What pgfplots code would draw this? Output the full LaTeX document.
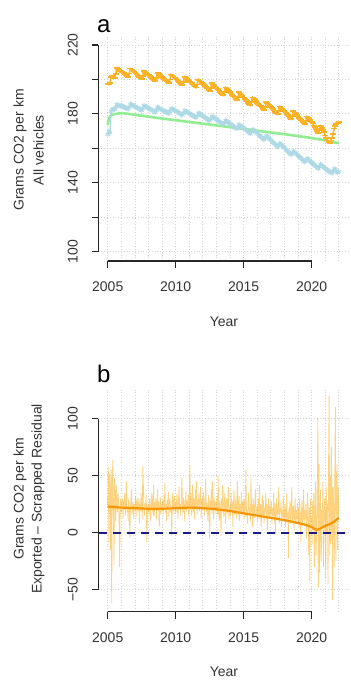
\documentclass[border=0pt]{standalone}
\usepackage{pgfplots}
\pgfplotsset{compat=1.18}
\usepackage{pgfplotstable}
\usepackage{fontspec}
\setmainfont{Liberation Sans}
\definecolor{Rorange}{RGB}{255,165,0}
\definecolor{Rdark}{RGB}{245,150,0}
\definecolor{Rblue}{RGB}{173,216,230}
\definecolor{Rgreen}{RGB}{144,238,144}
\definecolor{Rnavy}{RGB}{25,25,135}
\definecolor{gridc}{RGB}{212,212,212}

% monthly values, Jan 2005 ... Jan 2022
\pgfplotstableread[header=false,row sep=\\]{
197.5\\197\\198\\201.5\\202\\201.5\\201\\203\\206.5\\206\\205.5\\205\\
205.0\\204.4\\203.8\\203.3\\202.7\\202.1\\201.5\\203.4\\206.3\\205.8\\205.2\\204.6\\
204.0\\203.4\\202.8\\202.1\\201.5\\200.9\\200.3\\202.1\\205.0\\204.4\\203.8\\203.1\\
202.5\\201.9\\201.3\\200.8\\200.2\\199.6\\199.0\\200.9\\203.8\\203.3\\202.7\\202.1\\
201.5\\200.9\\200.3\\199.8\\199.2\\198.6\\198.0\\199.9\\202.8\\202.3\\201.7\\201.1\\
200.5\\199.9\\199.3\\198.6\\198.0\\197.4\\196.8\\198.6\\201.5\\200.9\\200.3\\199.6\\
199.0\\198.4\\197.8\\197.1\\196.5\\195.9\\195.3\\197.1\\200.0\\199.4\\198.8\\198.1\\
197.5\\196.8\\196.1\\195.4\\194.7\\194.0\\193.3\\195.0\\197.8\\197.1\\196.4\\195.7\\
195.0\\194.3\\193.6\\192.9\\192.2\\191.5\\190.8\\192.5\\195.3\\194.6\\193.9\\193.2\\
192.5\\191.8\\191.0\\190.3\\189.5\\188.8\\188.0\\189.8\\192.5\\191.8\\191.0\\190.3\\
189.5\\188.8\\188.0\\187.3\\186.5\\185.8\\185.0\\186.8\\189.5\\188.8\\188.0\\187.3\\
186.5\\185.8\\185.1\\184.4\\183.7\\183.0\\182.3\\184.0\\186.8\\186.1\\185.4\\184.7\\
184.0\\183.3\\182.6\\181.9\\181.2\\180.5\\179.8\\181.5\\184.3\\183.6\\182.9\\182.2\\
181.5\\180.8\\180.0\\179.3\\178.5\\177.8\\177.0\\178.8\\181.5\\180.8\\180.0\\179.3\\
178.5\\177.8\\177.0\\176.3\\175.5\\174.8\\174.0\\175.8\\178.5\\177.8\\177.0\\176.3\\
175.5\\174.4\\173.3\\172.3\\171.2\\170.1\\169.0\\170.4\\172.8\\171.8\\170.7\\169.6\\
167.5\\166.0\\164.5\\163.5\\163.0\\164.5\\166.0\\168.5\\171.5\\173.0\\174.0\\174.5\\
175.5\\
}\orangeTab

\pgfplotstableread[header=false,row sep=\\]{
168\\170\\169\\181.5\\182.5\\182.8\\182.5\\183.5\\185.5\\185.2\\184.8\\184.5\\
184.8\\184.5\\184.1\\183.8\\183.4\\183.1\\182.8\\183.9\\185.7\\185.3\\185.0\\184.6\\
184.3\\183.9\\183.5\\183.2\\182.8\\182.4\\182.0\\183.1\\184.8\\184.5\\184.1\\183.7\\
183.3\\182.9\\182.5\\182.2\\181.8\\181.4\\181.0\\182.1\\183.8\\183.5\\183.1\\182.7\\
182.3\\182.0\\181.6\\181.3\\180.9\\180.6\\180.3\\181.4\\183.2\\182.8\\182.5\\182.1\\
181.8\\181.4\\181.0\\180.5\\180.1\\179.7\\179.3\\180.3\\182.0\\181.6\\181.2\\180.7\\
180.3\\179.9\\179.5\\179.0\\178.6\\178.2\\177.8\\178.8\\180.5\\180.1\\179.7\\179.2\\
178.8\\178.3\\177.9\\177.4\\176.9\\176.5\\176.0\\177.0\\178.7\\178.2\\177.7\\177.3\\
176.8\\176.3\\175.8\\175.3\\174.8\\174.3\\173.8\\174.7\\176.3\\175.8\\175.3\\174.8\\
174.3\\173.8\\173.3\\172.8\\172.3\\171.8\\171.3\\172.2\\173.8\\173.3\\172.8\\172.3\\
171.8\\171.3\\170.7\\170.2\\169.6\\169.1\\168.5\\169.5\\171.0\\170.5\\169.9\\169.4\\
168.8\\168.2\\167.5\\166.9\\166.3\\165.6\\165.0\\165.9\\167.3\\166.7\\166.1\\165.4\\
164.8\\164.1\\163.5\\162.8\\162.1\\161.4\\160.8\\161.6\\163.0\\162.3\\161.7\\161.0\\
160.3\\159.6\\159.0\\158.3\\157.6\\156.9\\156.3\\157.1\\158.5\\157.8\\157.2\\156.5\\
155.8\\155.2\\154.5\\153.9\\153.3\\152.6\\152.0\\152.9\\154.3\\153.7\\153.1\\152.4\\
151.8\\151.2\\150.6\\150.0\\149.4\\148.8\\148.3\\149.2\\150.7\\150.1\\149.5\\148.9\\
148.3\\147.8\\147.4\\146.9\\146.4\\146.0\\145.5\\146.5\\148.2\\147.7\\146.5\\146.0\\
146.5\\
}\blueTab

% semi-monthly residuals, 2005.0 ... 2022.0
\pgfplotstableread[header=false,row sep=\\]{
22\\58\\-8\\52\\40\\-15\\55\\-62\\45\\64\\20\\-28\\48\\30\\10\\42\\25\\18\\35\\28\\15\\-30\\22\\30\\
18\\25\\30\\12\\28\\20\\35\\15\\24\\45\\18\\22\\10\\30\\26\\-5\\20\\28\\38\\16\\22\\27\\12\\25\\
20\\32\\14\\26\\30\\18\\22\\30\\8\\25\\19\\35\\24\\12\\58\\40\\20\\15\\26\\22\\33\\-8\\24\\18\\
25\\15\\30\\22\\10\\28\\35\\20\\18\\42\\14\\26\\22\\30\\12\\24\\38\\19\\27\\5\\23\\31\\16\\25\\
20\\28\\15\\33\\22\\44\\17\\25\\10\\29\\21\\36\\14\\26\\30\\18\\23\\-3\\27\\35\\19\\24\\32\\16\\
26\\18\\34\\22\\12\\30\\40\\20\\25\\15\\28\\48\\21\\17\\31\\24\\10\\27\\36\\19\\25\\22\\33\\14\\
28\\59\\20\\35\\15\\25\\42\\18\\30\\12\\26\\38\\22\\45\\16\\29\\24\\34\\19\\27\\40\\13\\25\\31\\
20\\36\\24\\15\\30\\48\\18\\26\\22\\10\\33\\25\\-5\\28\\20\\38\\17\\45\\23\\12\\30\\21\\27\\16\\
24\\32\\15\\50\\20\\10\\28\\22\\-3\\30\\18\\42\\25\\14\\27\\35\\8\\22\\30\\17\\26\\40\\12\\20\\
22\\15\\35\\18\\28\\5\\24\\38\\16\\20\\30\\12\\26\\45\\14\\22\\32\\10\\25\\18\\36\\15\\23\\28\\
16\\30\\12\\25\\55\\14\\20\\8\\28\\35\\15\\22\\10\\48\\18\\25\\5\\30\\20\\13\\27\\38\\15\\20\\
22\\10\\30\\16\\42\\12\\25\\5\\20\\33\\15\\28\\8\\22\\18\\35\\12\\25\\2\\20\\30\\14\\24\\16\\
18\\28\\8\\22\\15\\35\\10\\26\\-2\\20\\30\\12\\24\\16\\40\\8\\22\\18\\28\\5\\20\\14\\32\\12\\
15\\25\\5\\20\\34\\10\\18\\-22\\22\\12\\28\\8\\18\\40\\10\\16\\24\\2\\18\\30\\8\\20\\12\\26\\
10\\22\\5\\30\\14\\-8\\18\\28\\6\\15\\38\\8\\20\\12\\25\\-5\\16\\35\\10\\-20\\22\\-42\\30\\8\\
12\\-10\\28\\5\\35\\-30\\15\\45\\-20\\8\\25\\101\\-48\\60\\-35\\10\\38\\-25\\20\\5\\45\\-30\\15\\30\\
10\\-40\\40\\0\\25\\-45\\60\\120\\-20\\50\\-10\\75\\30\\-59\\40\\20\\-30\\45\\110\\-25\\35\\60\\-15\\40\\
15\\
}\resTab

\pgfplotsset{Rstyle/.style={
  scale only axis, anchor=south west,
  width=249.5bp,
  xmin=2004.32, xmax=2022.68,
  axis x line*=bottom, axis y line*=left,
  axis line style={draw=none},
  clip=false,
  tick align=outside,
  major tick length=7bp,
  minor tick length=0pt,
  major tick style={black!85, line width=1.1bp},
  minor tick style={draw=none},
  xtick={2005,2010,2015,2020},
  xticklabels={2005,2010,2015,2020},
  minor xtick={2006,2007,2008,2009,2011,2012,2013,2014,2016,2017,2018,2019,2021,2022},
  grid=both,
  major grid style={gridc, line width=0.8bp, dash pattern=on 0.8bp off 2bp},
  minor grid style={gridc, line width=0.8bp, dash pattern=on 0.8bp off 2bp},
  tick label style={font=\fontsize{14bp}{16bp}\selectfont, text=black!80},
  xticklabel style={anchor=north, inner sep=0pt, yshift=-14bp},
  yticklabel style={xshift=-13.5bp, rotate=90, anchor=south, inner sep=0pt},
}}

\begin{document}
\begin{tikzpicture}
\useasboundingbox (0bp,0bp) rectangle (351bp,700bp);

% ---------- panel a ----------
\begin{axis}[Rstyle, at={(98.5bp,439bp)}, height=224.3bp,
  ymin=94.6, ymax=224.8,
  ytick={100,120,140,160,180,200,220},
  yticklabels={100,,140,,180,,220}]
\addplot[Rgreen, line width=2.6bp] coordinates {
 (2005,173.5) (2005.083,177) (2005.167,178.5) (2005.25,179.2) (2005.5,179.8)
 (2005.75,180.2) (2006,180.5) (2007,179.5) (2008,178.4) (2009,177.3) (2010,176.3)
 (2011,175.3) (2012,174.3) (2013,173.3) (2014,172.3) (2015,171.3) (2016,170.2)
 (2017,169.2) (2018,168.2) (2019,167.1) (2020,166.0) (2021,164.6) (2022,163.0)};
\addplot[Rblue, line width=1.1bp, mark=asterisk, mark size=2.6bp,
  mark options={line width=0.8bp}]
  table[x expr=2005+\coordindex/12, y index=0] \blueTab;
\addplot[Rorange!85!white, line width=1.6bp, mark=-, mark size=3bp,
  mark options={line width=1.8bp}]
  table[x expr=2005+\coordindex/12, y index=0] \orangeTab;
\draw[black!85, line width=1.1bp] (axis cs:2005,94.6) -- (axis cs:2020,94.6);
\draw[black!85, line width=1.1bp] (axis cs:2004.32,100) -- (axis cs:2004.32,220);
\end{axis}

% ---------- panel b ----------
\begin{axis}[Rstyle, at={(98.5bp,88.3bp)}, height=223.6bp,
  ymin=-69.3, ymax=126.8,
  ytick={-50,0,50,100},
  yticklabels={−50,0,50,100}]
\addplot[Rorange, opacity=0.5, line width=0.8bp]
  table[x expr=2005+\coordindex/24, y index=0] \resTab;
\addplot[Rdark, line width=2.2bp, smooth, tension=0.5] coordinates {
 (2005,23) (2005.5,22.5) (2006,22) (2007,21.5) (2008,21) (2009,21) (2010,21.5)
 (2011,22) (2012,21.5) (2013,20.5) (2014,19) (2015,17) (2016,15) (2017,13)
 (2018,11) (2019,8.5) (2019.5,7) (2020,5) (2020.35,2.5) (2020.7,4) (2021,6)
 (2021.5,8.5) (2022,13)};
\addplot[Rnavy, line width=2bp, dash pattern=on 8bp off 6bp]
  coordinates {(2004.32,0) (2022.68,0)};
\draw[black!85, line width=1.1bp] (axis cs:2005,-69.3) -- (axis cs:2020,-69.3);
\draw[black!85, line width=1.1bp] (axis cs:2004.32,-50) -- (axis cs:2004.32,100);
\end{axis}

% ---------- labels ----------
\node[anchor=base west, inner sep=0pt, font=\fontsize{24bp}{26bp}\selectfont] at (97bp,667bp) {a};
\node[anchor=base west, inner sep=0pt, font=\fontsize{24bp}{26bp}\selectfont] at (97bp,317bp) {b};
\node[rotate=90, inner sep=0pt, text=black!80, font=\fontsize{14bp}{16bp}\selectfont] at (20bp,550bp) {Grams CO2 per km};
\node[rotate=90, inner sep=0pt, text=black!80, font=\fontsize{14bp}{16bp}\selectfont] at (38.5bp,550bp) {All vehicles};
\node[rotate=90, inner sep=0pt, text=black!80, font=\fontsize{14bp}{16bp}\selectfont] at (20bp,201bp) {Grams CO2 per km};
\node[rotate=90, inner sep=0pt, text=black!80, font=\fontsize{14bp}{16bp}\selectfont] at (38bp,201bp) {Exported – Scrapped Residual};
\node[inner sep=0pt, text=black!80, font=\fontsize{14bp}{16bp}\selectfont] at (224bp,378bp) {Year};
\node[inner sep=0pt, text=black!80, font=\fontsize{14bp}{16bp}\selectfont] at (224bp,28bp) {Year};
\end{tikzpicture}
\end{document}
